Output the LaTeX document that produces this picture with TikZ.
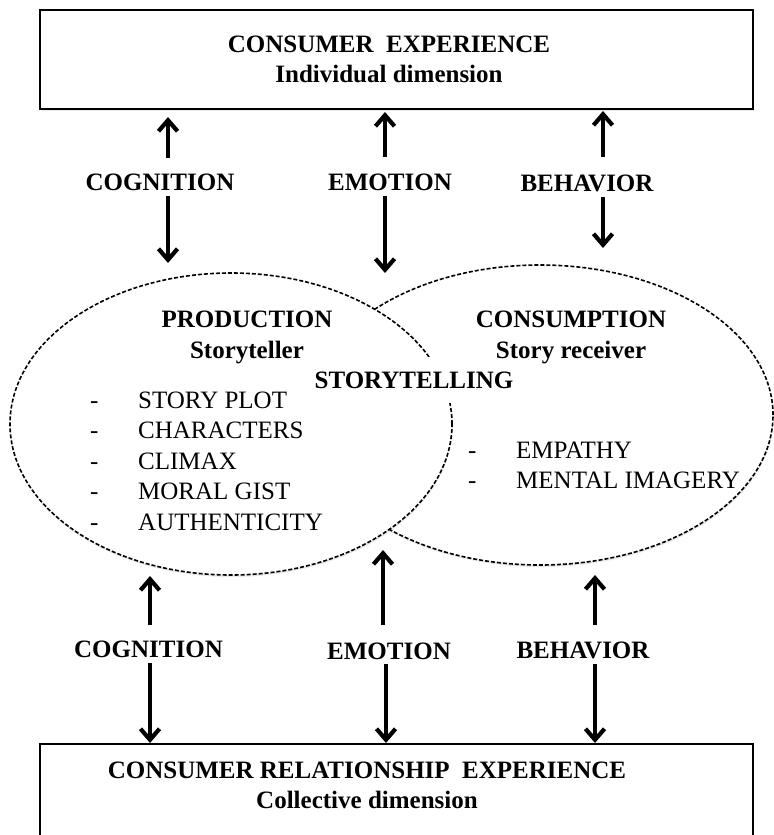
\documentclass[tikz,border=0pt]{standalone}
\usepackage{fontspec}
\setmainfont{Liberation Serif}
\usetikzlibrary{arrows.meta,shapes.geometric,shadows}
\begin{document}
\begin{tikzpicture}[x=1bp,y=-1bp,
  shade/.style={drop shadow={opacity=0.18,shadow xshift=0.6bp,shadow yshift=-2bp}},
  box/.style={draw,line width=2bp,fill=white,inner sep=0,shade},
  oval/.style={ellipse,draw,dash pattern=on 4bp off 2bp,line width=1.6bp,fill=white,inner sep=0,shade},
  title/.style={font=\fontsize{25bp}{30bp}\selectfont\bfseries,anchor=base,inner sep=0},
  item/.style={font=\fontsize{25bp}{30bp}\selectfont,anchor=base west,inner sep=0},
  arr/.style={line width=3.4bp,-{Straight Barb[length=11bp,width=19bp,line width=4.2bp]}}]
\useasboundingbox (0,0) rectangle (774,835);
% boxes
\node[box,minimum width=713bp,minimum height=99bp] (topbox) at (396.5,59.5) {};
\node[box,minimum width=713bp,minimum height=116bp] (botbox) at (396.5,802) {};
\node[title] (ce) at (389,52) {CONSUMER\ \ EXPERIENCE};
\node[title] (idim) at (389,82) {Individual dimension};
\node[title] (cre) at (367,778) {CONSUMER RELATIONSHIP\ \ EXPERIENCE};
\node[title] (cdim) at (367,808) {Collective dimension};
% ellipses
\node[oval,minimum width=466bp,minimum height=300bp] (cons) at (540,415) {};
\node[oval,minimum width=442bp,minimum height=302bp] (prod) at (231,424) {};
\node[title,fill=white,anchor=center,inner xsep=4bp,inner ysep=15bp,text height=16.5bp,text depth=0pt] (st) at (414,380) {STORYTELLING};
\node[title] (pr) at (247,327) {PRODUCTION};
\node[title] (stl) at (247,358) {Storyteller};
\node[title] (cs) at (571,327) {CONSUMPTION};
\node[title] (sr) at (571,358) {Story receiver};
% left list
\foreach \t [count=\i] in {STORY PLOT,CHARACTERS,CLIMAX,MORAL GIST,AUTHENTICITY}{
  \node[item] (pd\i) at (90,{408+30.5*(\i-1)}) {-};
  \node[item] (pi\i) at (138,{408+30.5*(\i-1)}) {\t};
}
\node[item] (cd1) at (468,458) {-};
\node[item] (ci1) at (516,458) {EMPATHY};
\node[item] (cd2) at (468,488) {-};
\node[item] (ci2) at (516,488) {MENTAL IMAGERY};
% labels
\node[title] (cogT) at (160,190) {COGNITION};
\node[title] (emoT) at (390,190) {EMOTION};
\node[title] (behT) at (587,191) {BEHAVIOR};
\node[title] (cogB) at (148.5,657) {COGNITION};
\node[title] (emoB) at (389,659) {EMOTION};
\node[title] (behB) at (583,658) {BEHAVIOR};
% arrow end points
\coordinate (cogTu0) at (168,158); \coordinate (cogTu1) at (168,117);
\coordinate (cogTd0) at (168,196); \coordinate (cogTd1) at (168,263);
\coordinate (emoTu0) at (385,157); \coordinate (emoTu1) at (385,112);
\coordinate (emoTd0) at (385,196); \coordinate (emoTd1) at (385,273);
\coordinate (behTu0) at (603,157); \coordinate (behTu1) at (603,111);
\coordinate (behTd0) at (603,197); \coordinate (behTd1) at (603,248);
\coordinate (cogBu0) at (150,625); \coordinate (cogBu1) at (150,576);
\coordinate (cogBd0) at (150,663); \coordinate (cogBd1) at (150,743);
\coordinate (emoBu0) at (383,625); \coordinate (emoBu1) at (383,550);
\coordinate (emoBd0) at (386,664); \coordinate (emoBd1) at (386,743);
\coordinate (behBu0) at (595,625); \coordinate (behBu1) at (595,575);
\coordinate (behBd0) at (595,664); \coordinate (behBd1) at (595,743);
\foreach \a in {cogT,emoT,behT,cogB,emoB,behB}{
  \draw[arr] (\a u0) -- (\a u1);
  \draw[arr] (\a d0) -- (\a d1);
}
\end{tikzpicture}
\end{document}
